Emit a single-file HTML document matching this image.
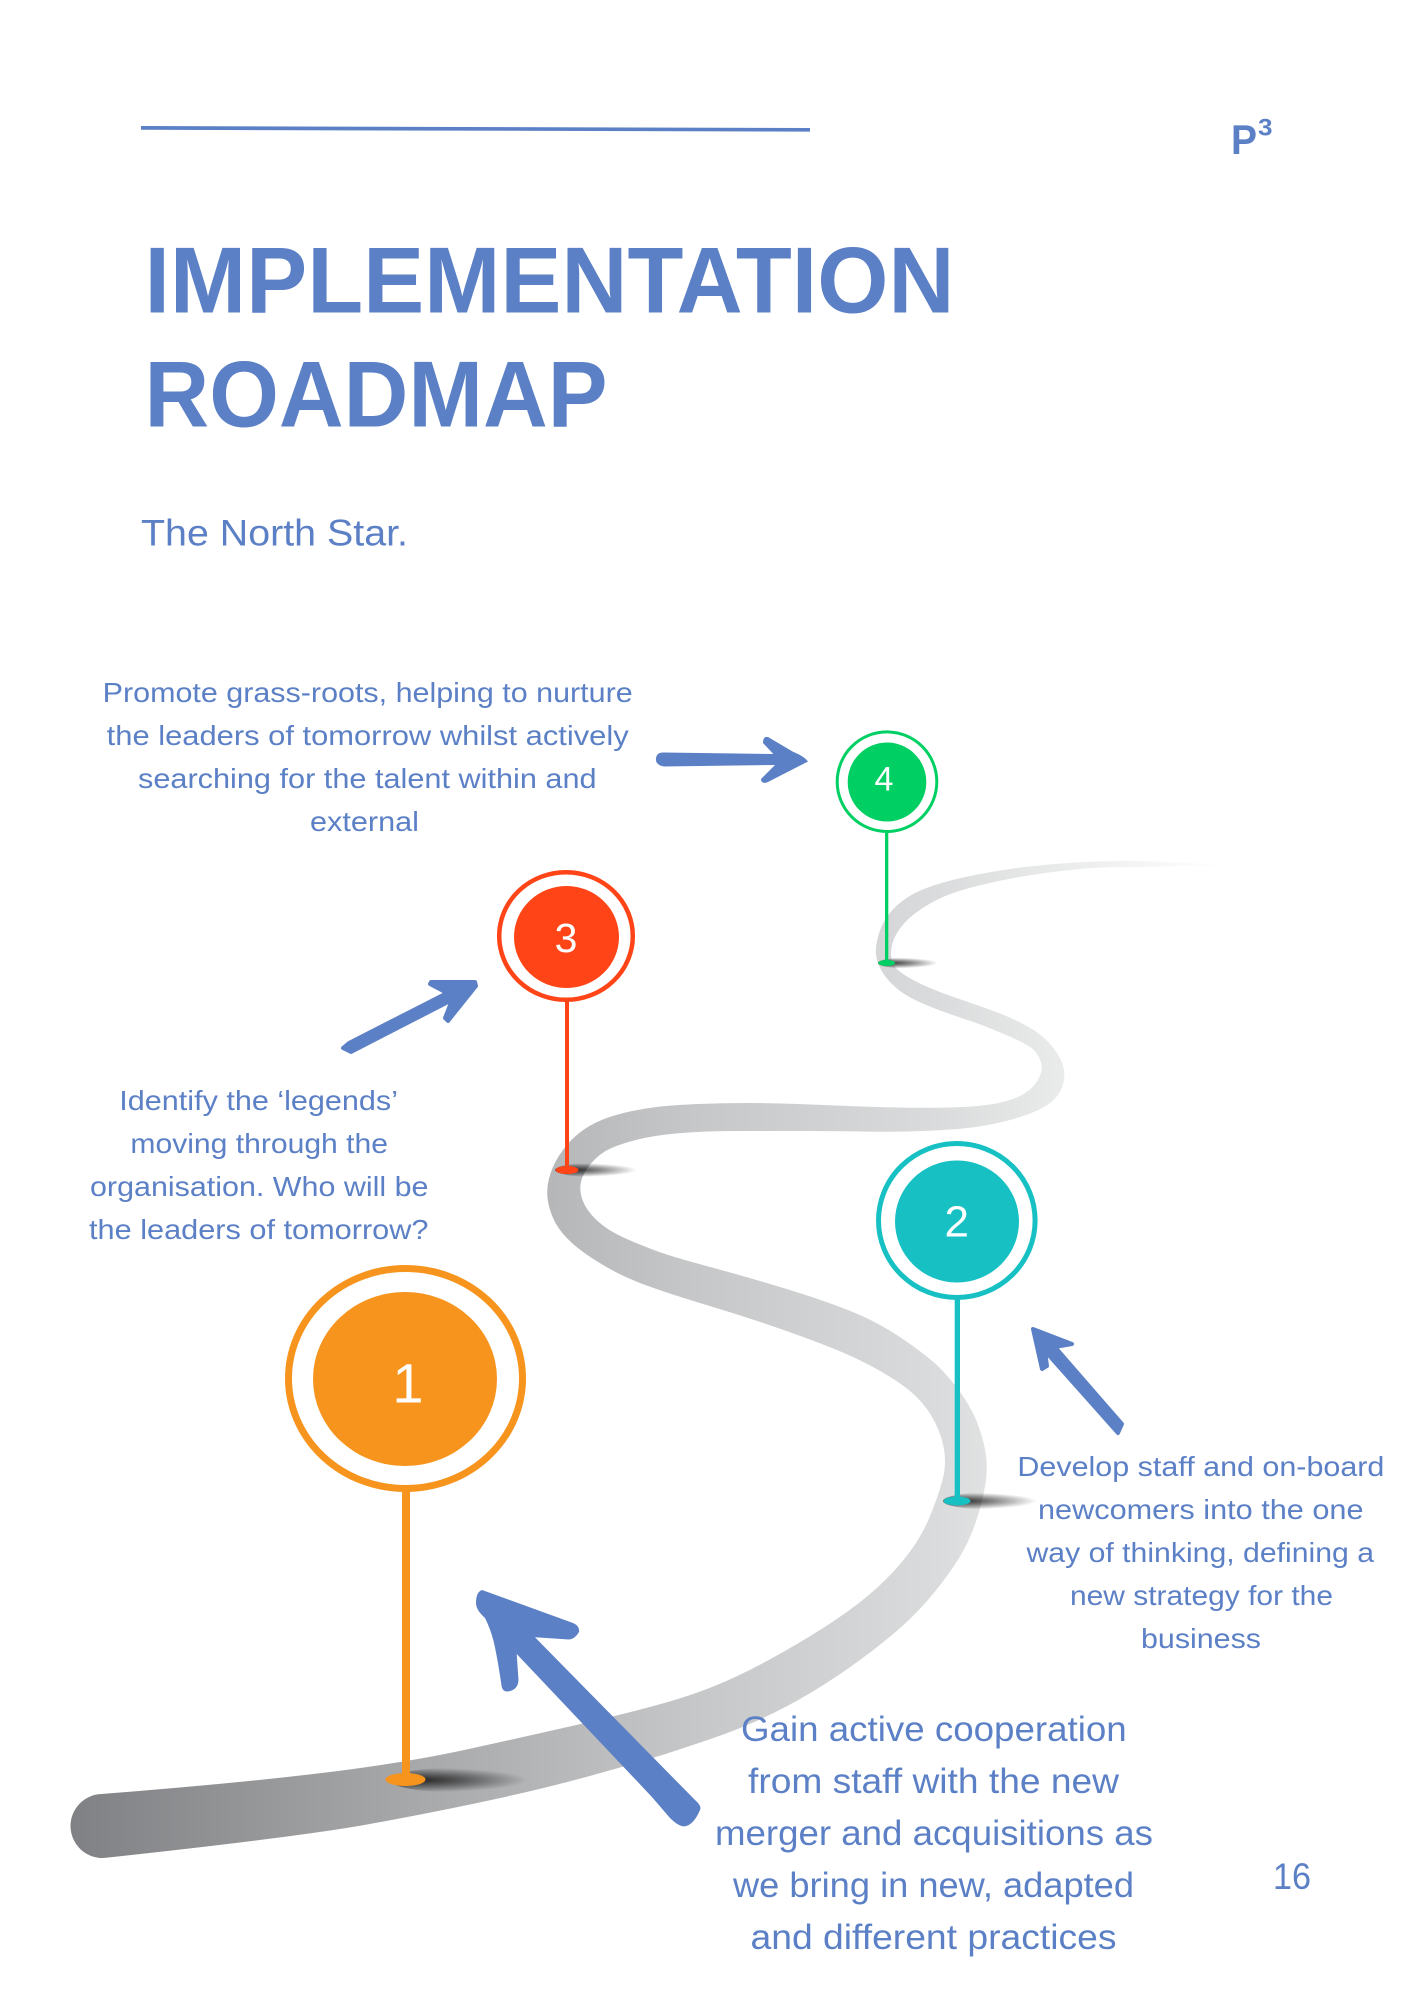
<!DOCTYPE html>
<html lang="en"><head><meta charset="utf-8"><title>Implementation Roadmap</title>
<style>html,body{margin:0;padding:0;background:#fff;width:1414px;height:2000px;overflow:hidden}svg{display:block}
text{font-family:"Liberation Sans",sans-serif;fill:#5c80c6}</style></head>
<body>
<svg xmlns="http://www.w3.org/2000/svg" width="1414" height="2000" viewBox="0 0 1414 2000">
<defs>
<linearGradient id="road" gradientUnits="userSpaceOnUse" x1="71" y1="0" x2="1225" y2="0">
<stop offset="0" stop-color="#808184"/><stop offset=".2" stop-color="#9b9c9e"/><stop offset=".41" stop-color="#b5b6b8"/><stop offset=".54" stop-color="#c6c7c8"/><stop offset=".75" stop-color="#dadbdc"/><stop offset=".84" stop-color="#e7e8e8"/><stop offset="1" stop-color="#ffffff"/>
</linearGradient>
<radialGradient id="sh" cx=".2" cy=".5" r="1" gradientTransform="translate(.2,.5) scale(.8,.5) translate(-.2,-.5)">
<stop offset="0" stop-color="#000" stop-opacity=".78"/><stop offset=".45" stop-color="#000" stop-opacity=".45"/><stop offset="1" stop-color="#000" stop-opacity="0"/>
</radialGradient>
</defs>
<rect width="1414" height="2000" fill="#fff"/>
<polygon points="141,126 810,128 810,131.6 141,129.8" fill="#5c80c6"/>
<text x="1231" y="154" font-size="42" font-weight="700" textLength="26" lengthAdjust="spacingAndGlyphs">P</text>
<text x="1258" y="135.7" font-size="24" font-weight="700" textLength="14.5" lengthAdjust="spacingAndGlyphs">3</text>
<text x="144.5" y="312.7" font-size="94" font-weight="700" textLength="810" lengthAdjust="spacingAndGlyphs">IMPLEMENTATION</text>
<text x="144.5" y="426.7" font-size="94" font-weight="700" textLength="463" lengthAdjust="spacingAndGlyphs">ROADMAP</text>
<text x="141" y="545.7" font-size="37" textLength="267" lengthAdjust="spacingAndGlyphs">The North Star.</text>

<path fill="url(#road)" d="M101.5,1794 Q230,1784 317.5,1773.5 Q405,1763 466.5,1749.5 Q528,1736 574,1725.5 Q620,1715 653.5,1706 Q687,1697 712,1687 Q737,1677 765,1662 Q793,1647 820,1630 Q847,1613 867,1596.5 Q887,1580 903.5,1560 Q920,1540 929,1518.5 Q938,1497 942.5,1480 Q947,1463 943.5,1446.5 Q940,1430 931.5,1416 Q923,1402 910.5,1391.5 Q898,1381 877.5,1369.5 Q857,1358 832,1348 Q807,1338 773.5,1326.5 Q740,1315 706.5,1305 Q673,1295 648,1286 Q623,1277 603,1265 Q583,1253 572,1243 Q561,1233 555.5,1223 Q550,1213 548,1201.5 Q546,1190 549,1178.5 Q552,1167 558.5,1156.5 Q565,1146 574,1137.5 Q583,1129 595,1123 Q607,1117 623.5,1113 Q640,1109 656.5,1107 Q673,1105 698,1104 Q723,1103 748,1103 Q773,1103 798,1104 Q823,1105 848,1106 Q873,1107 898,1107.5 Q923,1108 948,1107.5 Q973,1107 990,1104.5 Q1007,1102 1020,1096 Q1036,1088 1041,1073 Q1044,1062 1034,1050 Q1026,1043 1000,1032.5 Q983,1025 963,1018.5 Q943,1012 925,1004.5 Q907,997 897,988.5 Q887,980 882,971.5 Q877,963 876,955 Q875,947 878.5,935 Q882,923 889,914 Q896,905 906.5,898 Q917,891 933.5,885.5 Q950,880 975,875 Q1000,870 1025,867 Q1050,864 1075,862.5 Q1100,861 1125,861 Q1150,861 1230,865 Q1150,867 1125,867 Q1100,867 1075,869.5 Q1050,872 1025,876 Q1000,880 975,886.5 Q950,893 936.5,900 Q923,907 913,915 Q903,923 897,933 Q891,943 891,953 Q891,963 897,969 Q903,975 918,982.5 Q933,990 958,998.5 Q983,1007 1000,1013.5 Q1017,1020 1032,1029 Q1047,1038 1057,1053 Q1067,1068 1063.5,1082.5 Q1060,1097 1046.5,1105.5 Q1033,1114 1008,1120.5 Q983,1127 958,1129 Q933,1131 908,1131.5 Q883,1132 861.5,1131.5 Q840,1131 806.5,1131 Q773,1131 740,1131 Q707,1131 682,1133 Q657,1135 640,1139 Q623,1143 611.5,1148 Q600,1153 591.5,1163 Q583,1173 581,1181.5 Q579,1190 582.5,1200 Q586,1210 596.5,1220 Q607,1230 623.5,1237.5 Q640,1245 656.5,1251 Q673,1257 706.5,1266 Q740,1275 773.5,1285 Q807,1295 832,1304 Q857,1313 873.5,1321.5 Q890,1330 906.5,1341.5 Q923,1353 934,1362.5 Q945,1372 957.5,1388.5 Q970,1405 976.5,1421 Q983,1437 985.5,1452 Q988,1467 985.5,1483.5 Q983,1500 976.5,1520 Q970,1540 960,1556.5 Q950,1573 935,1591.5 Q920,1610 903.5,1625 Q887,1640 862,1658.5 Q837,1677 812,1692 Q787,1707 762,1718.5 Q737,1730 712,1738.5 Q687,1747 668.5,1753 Q650,1759 600.5,1773 Q551,1787 493.5,1799.5 Q436,1812 367,1824.5 Q298,1837 103.5,1858 A32,32 0 0 1 101.5,1794 Z"/>

<ellipse cx="459" cy="1780" rx="69" ry="12.5" fill="url(#sh)"/>
<ellipse cx="990" cy="1501" rx="47" ry="8.5" fill="url(#sh)"/>
<ellipse cx="596" cy="1170" rx="41" ry="7" fill="url(#sh)"/>
<ellipse cx="908" cy="963" rx="30" ry="5.5" fill="url(#sh)"/>

<!-- pin 1 -->
<rect x="402" y="1490" width="8" height="288" fill="#f7941d"/>
<ellipse cx="405.5" cy="1779.5" rx="20" ry="6.5" fill="#f7941d"/>
<ellipse cx="405.5" cy="1378.5" rx="117" ry="110" fill="#fff" stroke="#f7941d" stroke-width="7"/>
<ellipse cx="405" cy="1379" rx="92" ry="87" fill="#f7941d"/>
<text x="408" y="1402.5" font-size="56" text-anchor="middle" style="fill:#fff">1</text>
<!-- pin 2 -->
<rect x="954.7" y="1297" width="5.3" height="204" fill="#17c1c3"/>
<ellipse cx="957" cy="1501" rx="13.5" ry="4.5" fill="#17c1c3"/>
<ellipse cx="956.8" cy="1220.5" rx="78.3" ry="77" fill="#fff" stroke="#17c1c3" stroke-width="5"/>
<ellipse cx="957" cy="1221.5" rx="62" ry="61" fill="#17c1c3"/>
<text x="964" y="1236.7" font-size="44" text-anchor="end" style="fill:#fff" dx="5">2</text>
<!-- pin 3 -->
<rect x="565" y="1000" width="4" height="170" fill="#ff4518"/>
<ellipse cx="567" cy="1170" rx="11.5" ry="4" fill="#ff4518"/>
<ellipse cx="566" cy="936" rx="66.8" ry="63.8" fill="#fff" stroke="#ff4518" stroke-width="4.5"/>
<ellipse cx="566.5" cy="937" rx="52.5" ry="51" fill="#ff4518"/>
<text x="566" y="952" font-size="41" text-anchor="middle" style="fill:#fff">3</text>
<!-- pin 4 -->
<rect x="885" y="830" width="3.3" height="133" fill="#00d063"/>
<ellipse cx="886.7" cy="963" rx="8.5" ry="3" fill="#00d063"/>
<ellipse cx="887" cy="781.7" rx="49.8" ry="49.8" fill="#fff" stroke="#00d063" stroke-width="3"/>
<ellipse cx="887" cy="782" rx="39.3" ry="39.5" fill="#00d063"/>
<text x="884" y="790.7" font-size="34" text-anchor="middle" style="fill:#fff">4</text>

<!-- arrows -->
<g fill="#5c80c6">
<path d="M482,1590 L573,1623 Q580,1626 579,1632 Q575,1639 569,1639.5 L535,1637.3 L695,1800 Q702,1806 700,1810 Q694,1824 686,1826 Q680,1828 670,1818 L651.7,1796.7 L516.7,1654 L518.5,1680 Q518,1690 508,1691.5 Q503,1692 501.7,1686.7 Q497,1655 493.3,1640 Q490,1628 485,1618 Q476,1610 476,1603 Q476,1592 482,1590 Z"/>
<path d="M656,758 Q657,752 664,752.5 L773.3,754 L763,743 Q763,736 768,737 L793,751.7 Q804,756 808,761.5 L767,782.5 Q761,784 761,779 L775,765 L664,766.5 Q655,765 656,758 Z"/>
<polygon points="1033,1329 1072,1344 1055,1347 1122,1424 1118,1433 1045,1351 1047,1366 1042,1369" stroke="#5c80c6" stroke-width="4" stroke-linejoin="round"/>
<polygon points="343,1048 349,1043 447,993 430,984 431,982 475,982 476,986 448,1021 445,1018 452,1000 351,1052" stroke="#5c80c6" stroke-width="4" stroke-linejoin="round"/>
</g>

<!-- text -->
<g font-size="28">
<text x="102.7" y="702" textLength="530" lengthAdjust="spacingAndGlyphs">Promote grass-roots, helping to nurture</text>
<text x="106.7" y="745" textLength="522" lengthAdjust="spacingAndGlyphs">the leaders of tomorrow whilst actively</text>
<text x="138" y="788" textLength="458.6" lengthAdjust="spacingAndGlyphs">searching for the talent within and</text>
<text x="310" y="831" textLength="109" lengthAdjust="spacingAndGlyphs">external</text>
<text x="119.3" y="1110" textLength="278.7" lengthAdjust="spacingAndGlyphs">Identify the ‘legends’</text>
<text x="130.4" y="1153" textLength="257.6" lengthAdjust="spacingAndGlyphs">moving through the</text>
<text x="90" y="1196" textLength="338.5" lengthAdjust="spacingAndGlyphs">organisation. Who will be</text>
<text x="89" y="1239" textLength="339.5" lengthAdjust="spacingAndGlyphs">the leaders of tomorrow?</text>
<text x="1017.4" y="1476" textLength="367" lengthAdjust="spacingAndGlyphs">Develop staff and on-board</text>
<text x="1038" y="1519" textLength="325.5" lengthAdjust="spacingAndGlyphs">newcomers into the one</text>
<text x="1026.5" y="1562" textLength="347.5" lengthAdjust="spacingAndGlyphs">way of thinking, defining a</text>
<text x="1070" y="1605" textLength="263" lengthAdjust="spacingAndGlyphs">new strategy for the</text>
<text x="1141" y="1648" textLength="120" lengthAdjust="spacingAndGlyphs">business</text>
</g>
<g font-size="35">
<text x="741" y="1741" textLength="385.7" lengthAdjust="spacingAndGlyphs">Gain active cooperation</text>
<text x="748" y="1793" textLength="371" lengthAdjust="spacingAndGlyphs">from staff with the new</text>
<text x="715" y="1845" textLength="438" lengthAdjust="spacingAndGlyphs">merger and acquisitions as</text>
<text x="733" y="1897" textLength="401" lengthAdjust="spacingAndGlyphs">we bring in new, adapted</text>
<text x="750.5" y="1949" textLength="366" lengthAdjust="spacingAndGlyphs">and different practices</text>
</g>
<text x="1273" y="1889" font-size="37" textLength="38" lengthAdjust="spacingAndGlyphs">16</text>
</svg>
</body></html>
